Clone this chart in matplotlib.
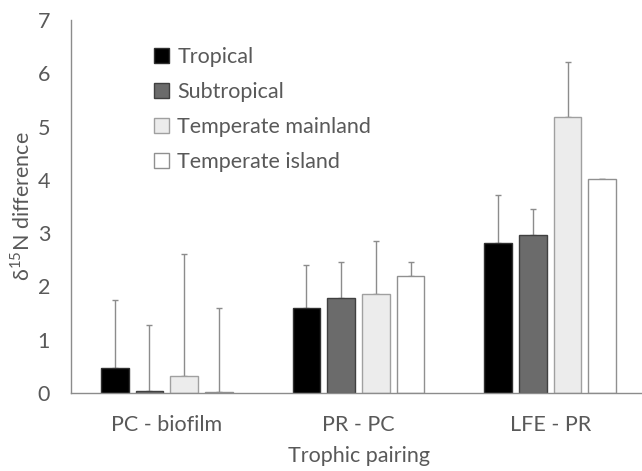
import matplotlib
matplotlib.use("Agg")
import matplotlib.pyplot as plt
import numpy as np

categories = ["PC - biofilm", "PR - PC", "LFE - PR"]
series = ["Tropical", "Subtropical", "Temperate mainland", "Temperate island"]
tropical = [0.47, 1.60, 2.82]
subtropical = [0.04, 1.78, 2.96]
temp_mainland = [0.31, 1.86, 5.18]
temp_island = [0.01, 2.20, 4.01]
tropical_err = [1.27, 0.80, 0.89]
subtropical_err = [1.24, 0.68, 0.50]
temp_mainland_err = [2.30, 1.00, 1.04]
temp_island_err = [1.58, 0.26, 0.0]
yticks = [0, 1, 2, 3, 4, 5, 6, 7]

values = [tropical, subtropical, temp_mainland, temp_island]
errors = [tropical_err, subtropical_err, temp_mainland_err, temp_island_err]
fills = ["#000000", "#6b6b6b", "#ececec", "#ffffff"]
edges = ["#303030", "#404040", "#a0a0a0", "#909090"]

plt.rcParams['font.family'] = ['Lato', 'DejaVu Sans']
plt.rcParams['mathtext.fontset'] = 'custom'
plt.rcParams['mathtext.rm'] = 'Lato'
txt = "#595959"
fs = 15.5

fig = plt.figure(figsize=(6.42, 4.71), dpi=100)
ax = fig.add_axes([71/642, 1-393/471, (646-71)/642, 373/471])

x = np.arange(len(categories))
w = 0.144
step = 0.181
handles = []
for i, (vals, errs) in enumerate(zip(values, errors)):
    pos = x + (i - 1.5) * step
    b = ax.bar(pos, vals, width=w, color=fills[i], edgecolor=edges[i], linewidth=1.0,
               label=series[i], zorder=2)
    handles.append(b)
    yerr = np.array([np.zeros(len(errs)), errs])
    ax.errorbar(pos, vals, yerr=yerr, fmt='none', ecolor="#8c8c8c", elinewidth=1.0,
                capsize=2.5, capthick=1.0, zorder=1)

ax.set_xlim(-0.5, 2.5)
ax.set_ylim(0, 7)
ax.set_yticks(yticks)
ax.set_xticks(x)
ax.set_xticklabels(categories)
ax.tick_params(axis='both', length=0, labelsize=fs, colors=txt)
ax.tick_params(axis='y', pad=15)
ax.tick_params(axis='x', pad=16)
for s in ['top', 'right']:
    ax.spines[s].set_visible(False)
for s in ['left', 'bottom']:
    ax.spines[s].set_color("#8c8c8c")
    ax.spines[s].set_linewidth(1.0)

ax.set_xlabel("Trophic pairing", fontsize=fs, color=txt, labelpad=8)
ax.set_ylabel(r"δ$^{\mathregular{15}}$N difference", fontsize=fs, color=txt, labelpad=3)

fig.legend(handles=handles, labels=series, loc='upper left',
           bbox_to_anchor=(145/642, 1-38/471), frameon=False, fontsize=fs,
           handlelength=0.7, handleheight=0.7, handletextpad=0.4,
           labelspacing=0.7, labelcolor=txt, borderaxespad=0)

fig.savefig("out.png", dpi=100)
